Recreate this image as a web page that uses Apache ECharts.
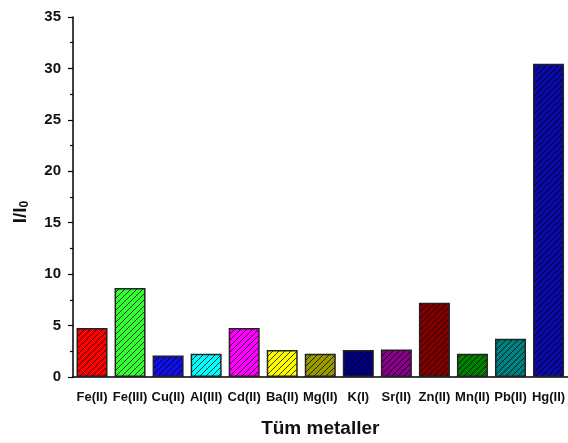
<!DOCTYPE html>
<html>
<head>
<meta charset="utf-8">
<script src="https://cdn.jsdelivr.net/npm/echarts@6/dist/echarts.min.js"></script>
<style>html,body{margin:0;padding:0;background:#fff}#c{width:568px;height:443px}</style>
</head>
<body>
<div id="c"></div>
<script>
var categories = ['Fe(II)','Fe(III)','Cu(II)','Al(III)','Cd(II)','Ba(II)','Mg(II)','K(I)','Sr(II)','Zn(II)','Mn(II)','Pb(II)','Hg(II)'];
var values = [4.77, 8.66, 2.1, 2.27, 4.77, 2.62, 2.27, 2.62, 2.68, 7.22, 2.27, 3.71, 30.46];
var colors = ['#FF0000','#33FF33','#1010E8','#00FFFF','#FF00FF','#FFFF00','#999900','#000080','#880088','#800000','#008000','#008080','#0A0AA8'];
var yTicks = [0,5,10,15,20,25,30,35];

function hatch(color){
  var s = 6;
  var cv = document.createElement('canvas');
  cv.width = s; cv.height = s;
  var ctx = cv.getContext('2d');
  ctx.fillStyle = color; ctx.fillRect(0,0,s,s);
  ctx.strokeStyle = 'rgba(0,0,0,0.85)'; ctx.lineWidth = 0.9;
  ctx.beginPath();
  ctx.moveTo(0,s); ctx.lineTo(s,0);
  ctx.moveTo(-1,1); ctx.lineTo(1,-1);
  ctx.moveTo(s-1,s+1); ctx.lineTo(s+1,s-1);
  ctx.stroke();
  return {image: cv, repeat: 'repeat'};
}

var font = '"Liberation Sans", Arial, sans-serif';
var chart = echarts.init(document.getElementById('c'));
chart.setOption({
  backgroundColor: '#fff',
  animation: false,
  grid: {left: 73, top: 17, width: 498, bottom: 61, containLabel: false},
  xAxis: [{
    type: 'category', data: categories, position: 'bottom',
    name: 'Tüm metaller', nameLocation: 'middle', nameGap: 42,
    nameTextStyle: {fontFamily: font, fontWeight: 'bold', fontSize: 19, color: '#111'},
    axisLine: {lineStyle: {color: '#000', width: 1.5}},
    axisTick: {alignWithLabel: true, length: 6, lineStyle: {color: '#000', width: 1.2}},
    axisLabel: {fontFamily: font, fontWeight: 'bold', fontSize: 13, color: '#111', margin: 14, interval: 0},
    splitLine: {show: false}
  },{
    type: 'category', data: categories, position: 'bottom',
    axisLine: {show: false},
    axisTick: {alignWithLabel: false, length: 3, lineStyle: {color: '#000', width: 1.2}},
    axisLabel: {show: false},
    splitLine: {show: false}
  }],
  yAxis: {
    type: 'value', min: 0, max: 35, interval: 5,
    name: 'I/I{sub|0}', nameLocation: 'middle', nameGap: 42, nameRotate: 90,
    nameTextStyle: {fontFamily: font, fontWeight: 'bold', fontSize: 19, color: '#111', padding: [0, 30, 0, 0],
      rich: {sub: {fontFamily: font, fontWeight: 'bold', fontSize: 12, color: '#111', verticalAlign: 'bottom', padding: [8,0,0,0]}}},
    axisLine: {show: true, lineStyle: {color: '#000', width: 1.5}},
    axisTick: {show: true, length: 5, lineStyle: {color: '#000', width: 1.2}},
    minorTick: {show: true, splitNumber: 2, length: 3, lineStyle: {color: '#000', width: 1.2}},
    axisLabel: {fontFamily: font, fontWeight: 'bold', fontSize: 15, color: '#111', margin: 12,
      formatter: function(v){ return yTicks.indexOf(v) >= 0 ? String(v) : ''; }},
    splitLine: {show: false}
  },
  series: [{
    type: 'bar', xAxisIndex: 0, barWidth: 31,
    data: values.map(function(v,i){
      return {value: v, itemStyle: {color: hatch(colors[i]), borderColor: '#222', borderWidth: 1.5}};
    })
  }]
});
</script>
</body>
</html>
